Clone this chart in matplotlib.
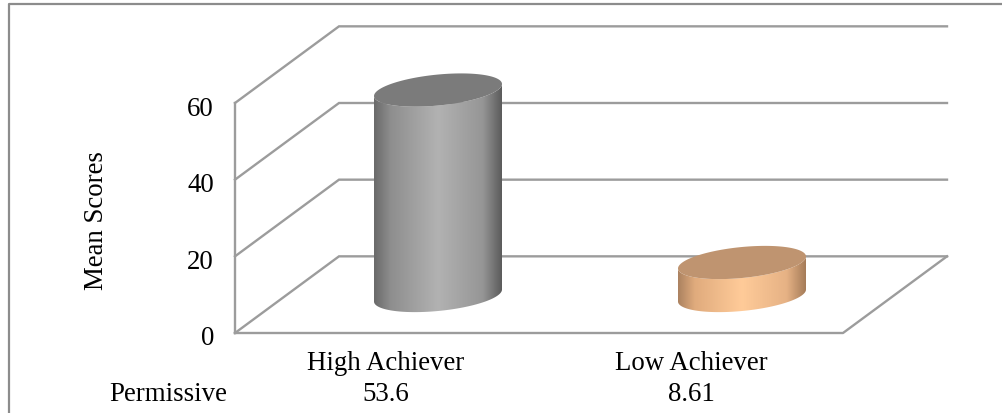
import numpy as np
import matplotlib
matplotlib.use('Agg')
import matplotlib.pyplot as plt
from matplotlib.lines import Line2D
from matplotlib.patches import Polygon
from matplotlib.colors import LinearSegmentedColormap

categories = ['High Achiever', 'Low Achiever']
values = [53.6, 8.61]
row_label = 'Permissive'
y_ticks = [0, 20, 40, 60]
y_title = 'Mean Scores'

side_stops = [0, 0.13, 0.5, 0.85, 1]
side_colors = [['#6a6a6a', '#8e8e8e', '#b2b2b2', '#969696', '#5c5c5c'],
               ['#ab8260', '#e0ab7d', '#ffcb99', '#e6b285', '#a57c59']]
top_colors = ['#7b7b7b', '#bf9470']

plt.rcParams['font.family'] = ['Liberation Serif', 'DejaVu Serif']
plt.rcParams['font.size'] = 19.4

W, H = 1002, 414
fig = plt.figure(figsize=(W / 100, H / 100), dpi=100, facecolor='white')
ax = fig.add_axes([0, 0, 1, 1])

# y axis runs in score units, x in pixels
px_per_unit = 230 / 60
y0_px = 334
ax.set_xlim(0, W)
ax.set_ylim(-(H - y0_px) / px_per_unit, y0_px / px_per_unit)
ax.axis('off')

left, right = 235, 843
depth_x, depth_y = 104, 20
grid = '#9c9c9c'

# outer frame, only top and left fall inside the canvas
fig.add_artist(Line2D([9 / W, 9 / W, 1], [0, 1 - 5 / H, 1 - 5 / H], color='#8c8c8c', lw=1.6))

# side wall, floor and back wall gridlines
for t in y_ticks:
    ax.plot([left, left + depth_x, right + depth_x], [t, t + depth_y, t + depth_y],
            color=grid, lw=1.7, solid_joinstyle='miter')
ax.plot([left, left], [0, 60], color=grid, lw=1.7)
ax.plot([left, right, right + depth_x], [0, 0, depth_y], color=grid, lw=1.7)

text_drop = 5 / px_per_unit
for t in y_ticks:
    ax.text(left - 21, t - text_drop, str(t), ha='right', va='center')
ax.text(97, 30 - 2 / px_per_unit, y_title, rotation=90, ha='center', va='center')


def draw_cylinder(cx, value, colors, top):
    half = 64
    base = (334 - 296.5) / px_per_unit
    b = 15.5 / px_per_unit
    shear = 6 / px_per_unit
    t = np.linspace(0, 2 * np.pi, 200)
    ex = cx + half * np.cos(t)
    ey = b * np.sin(t) + shear * np.cos(t)
    lower = np.sin(t) <= 0
    order = np.argsort(ex[lower])
    lx, ly = ex[lower][order], ey[lower][order]
    outline = np.r_[np.c_[lx, base + ly], np.c_[lx[::-1], base + value + ly[::-1]]]
    side = Polygon(outline, fc='none', ec='none')
    ax.add_patch(side)
    cmap = LinearSegmentedColormap.from_list('side', list(zip(side_stops, colors)))
    im = ax.imshow(np.linspace(0, 1, 256)[None, :], cmap=cmap, aspect='auto',
                   extent=[cx - half, cx + half, base - 10, base + value + 10],
                   interpolation='bilinear', zorder=3)
    im.set_clip_path(side)
    ax.add_patch(Polygon(np.c_[ex, base + value + ey], fc=top, ec='none', zorder=4))


centers = [438, 742]
for cx, v, c, tp in zip(centers, values, side_colors, top_colors):
    draw_cylinder(cx, v, c, tp)

ax.set_xlim(0, W)
ax.set_ylim(-(H - y0_px) / px_per_unit, y0_px / px_per_unit)

# data table under the axis
label_row = -(364 - y0_px) / px_per_unit
value_row = -(395 - y0_px) / px_per_unit
for cx, cat, v in zip([386, 691], categories, values):
    ax.text(cx, label_row, cat, ha='center', va='center')
    ax.text(cx, value_row, str(v), ha='center', va='center')
ax.text(168, value_row, row_label, ha='center', va='center')

fig.savefig('out.png', dpi=100)
